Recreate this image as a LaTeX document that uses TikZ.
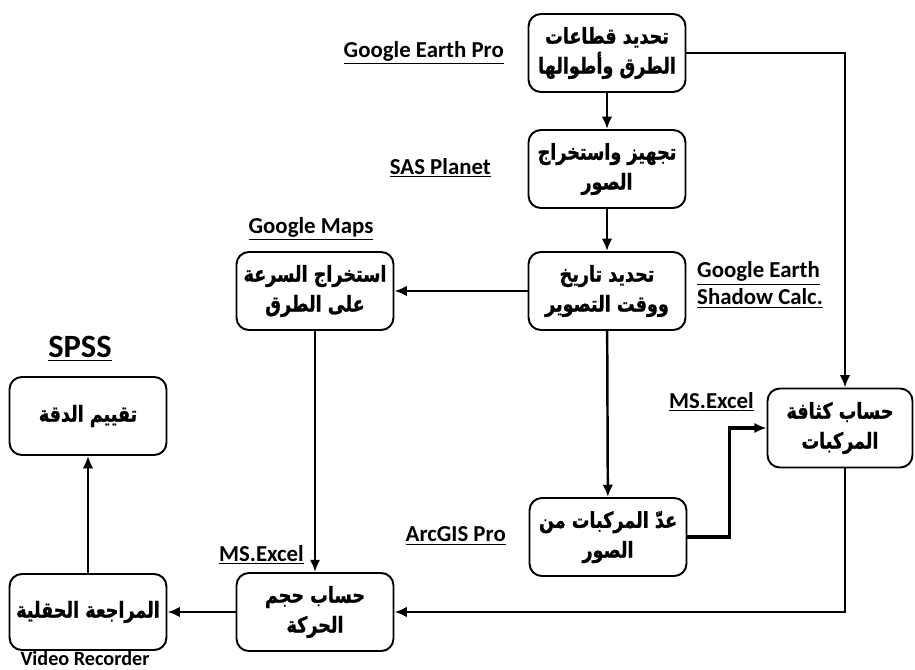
\documentclass[tikz,border=0pt]{standalone}
\usepackage{fontspec}
\setmainfont{Carlito}
\newfontfamily\arabicfont[Script=Arabic,FakeStretch=0.8,BoldFeatures={FakeBold=1.2}]{DejaVu Sans}
\TeXXeTstate=1
\usepackage{tikz}
\usetikzlibrary{arrows.meta}

\newcommand{\artxt}[1]{{\arabicfont\bfseries\beginR #1\endR}}

\begin{document}
\begin{tikzpicture}[x=0.02cm,y=-0.02cm,
    box/.style={draw,line width=1.1pt,rounded corners=7pt,minimum width=3.14cm,minimum height=1.56cm,align=center,font=\fontsize{12.5}{17}\selectfont},
    tool/.style={font=\bfseries\fontsize{13}{15.5}\selectfont,align=left},
    arr/.style={-{Latex[length=7pt,width=6pt]},line width=1.4pt}]
    \useasboundingbox (0,0) rectangle (915,669);
    % boxes
    \node[box] (b1) at (607,53) {\artxt{تحديد قطاعات}\\\artxt{الطرق وأطوالها}};
    \node[box] (b2) at (607,169) {\artxt{تجهيز واستخراج}\\\artxt{الصور}};
    \node[box] (b3) at (607,291) {\artxt{تحديد تاريخ}\\\artxt{ووقت التصوير}};
    \node[box] (b4) at (315,291) {\artxt{استخراج السرعة}\\\artxt{على الطرق}};
    \node[box] (b5) at (88,416) {\artxt{تقييم الدقة}};
    \node[box,minimum width=2.9cm,minimum height=1.58cm] (b6) at (840,428) {\artxt{حساب كثافة}\\\artxt{المركبات}};
    \node[box] (b7) at (608,537) {\artxt{عدّ المركبات من}\\\artxt{الصور}};
    \node[box] (b8) at (315,612) {\artxt{حساب حجم}\\\artxt{الحركة}};
    \node[box,minimum height=1.52cm] (b9) at (88,612) {\artxt{المراجعة الحقلية}};
    % software
    \node[tool,anchor=east] (t1) at (510,53) {\underline{Google Earth Pro}};
    \node[tool,anchor=east] (t2) at (497,168) {\underline{SAS Planet}};
    \node[tool] (t3) at (311,229) {\underline{Google Maps}};
    \node[tool,anchor=west] (t4) at (691,285) {\underline{Google Earth}\\\underline{Shadow Calc.}};
    \node[tool,font=\bfseries\fontsize{18.5}{20}\selectfont] (t5) at (80,349) {\underline{SPSS}};
    \node[tool,anchor=east] (t6) at (760,402) {\underline{MS.Excel}};
    \node[tool,anchor=east] (t7) at (512,536) {\underline{ArcGIS Pro}};
    \node[tool,anchor=east] (t8) at (310,555) {\underline{MS.Excel}};
    \node[tool,font=\bfseries\fontsize{11.5}{13}\selectfont,anchor=base,inner sep=0pt] (t9) at (85,665) {Video Recorder};
    % arrows
    \draw[arr] (b1) -- (b2);
    \draw[arr] (b2) -- (b3);
    \draw[arr] (b3) -- (b4);
    \draw[arr] (b3) -- (b7);
    \draw[arr] (b1.east) -| ([xshift=0.1cm]b6.north);
    \draw[arr,line width=2pt] (b7.east) -- ++(42,0) |- (b6.west);
    \draw[arr] ([xshift=0.1cm]b6.south) |- (b8.east);
    \draw[arr] (b4) -- (b8);
    \draw[arr] (b8) -- (b9);
    \draw[arr] (b9) -- (b5);
\end{tikzpicture}
\end{document}
